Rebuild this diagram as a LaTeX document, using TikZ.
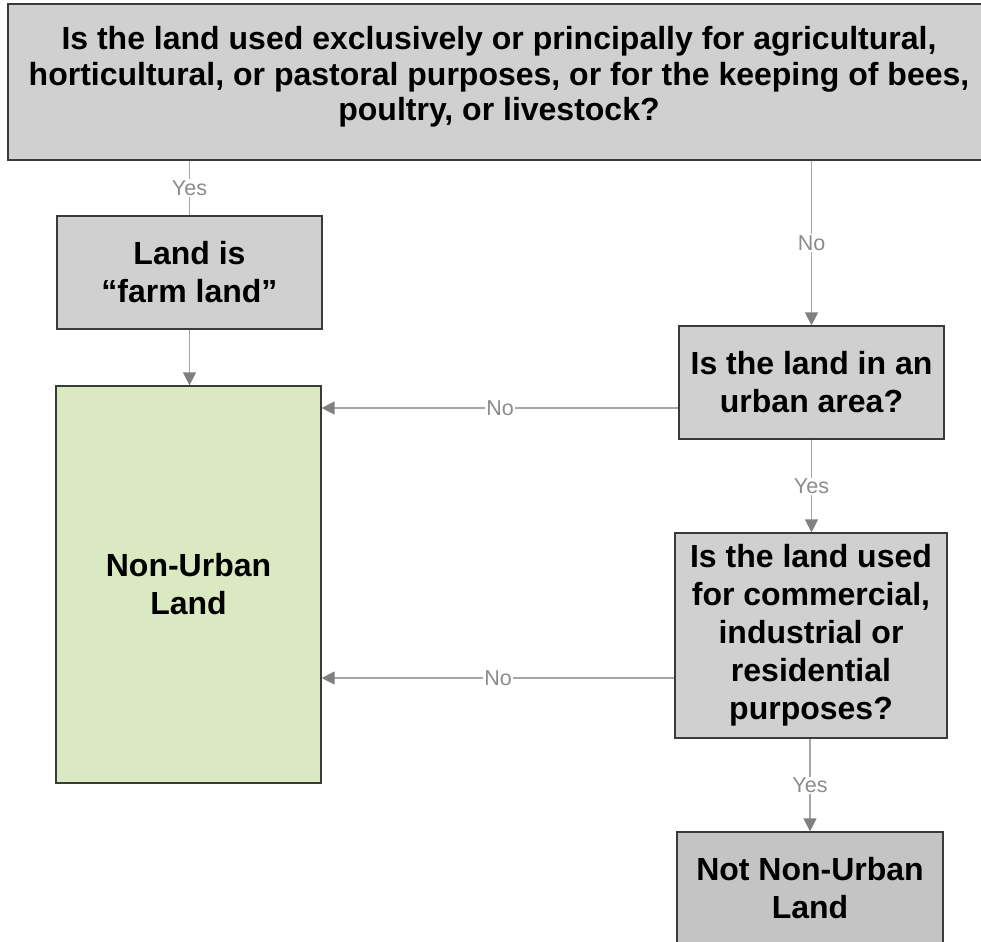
\documentclass[tikz,border=0pt]{standalone}
\usepackage{fontspec}
\setmainfont{Liberation Sans}
\usetikzlibrary{arrows.meta,calc}
\definecolor{boxgray}{HTML}{D0D0D0}
\definecolor{boxdark}{HTML}{C4C4C4}
\definecolor{boxgreen}{HTML}{DAE9C1}
\definecolor{linegray}{HTML}{A6A6A6}
\definecolor{tipgray}{HTML}{808080}
\definecolor{labgray}{HTML}{8C8C8C}
\definecolor{edgecol}{HTML}{3A3A3A}
\begin{document}
\begin{tikzpicture}[x=1pt,y=-1pt,
  box/.style={draw=edgecol,line width=1.2pt,fill=boxgray,align=center,
    font=\fontsize{32}{38}\selectfont\bfseries,inner sep=0pt},
  conn/.style={draw=linegray,line width=1.2pt},
  arr/.style={conn,-{Triangle[length=13pt,width=13pt,color=tipgray]}},
  lab/.style={fill=white,text=labgray,font=\fontsize{21.5}{24}\selectfont,inner sep=1pt}]
\useasboundingbox (0,0) rectangle (981,941);
\clip (0,0) rectangle (981,941);

\node[box,minimum width=982pt,minimum height=156pt,
  label={[align=center,font=\fontsize{32}{35.5}\selectfont\bfseries,yshift=5pt]center:
   Is the land used exclusively or principally for agricultural,\\
   horticultural, or pastoral purposes, or for the keeping of bees,\\
   poultry, or livestock?}] (top) at (499,82) {};
\node[box,minimum width=265pt,minimum height=113pt] (farm) at (189.5,272.5)
  {Land is\\“farm land”};
\node[box,fill=boxgreen,minimum width=265pt,minimum height=397pt] (green) at (188.5,584.5)
  {Non-Urban\\Land};
\node[box,minimum width=265pt,minimum height=113pt] (urban) at (811.5,382.5)
  {Is the land in an\\urban area?};
\node[box,minimum width=272pt,minimum height=205pt] (comm) at (811,635.5)
  {Is the land used\\for commercial,\\industrial or\\residential\\purposes?};
\node[box,fill=boxdark,minimum width=266pt,minimum height=113pt] (notnu) at (810,888.5)
  {Not Non-Urban\\Land};

\draw[conn] (farm.north |- top.south) -- node[lab]{Yes} (farm.north);
\draw[arr] (farm.south) -- (farm.south |- green.north);
\draw[arr] (urban.north |- top.south) -- node[lab]{No} (urban.north);
\draw[arr] ([yshift=-25.5pt]urban.west) -- node[lab]{No} ([yshift=-25.5pt]urban.west -| green.east);
\draw[arr] (urban.south) -- node[lab]{Yes} (urban.south |- comm.north);
\draw[arr] ([yshift=-42.5pt]comm.west) -- node[lab]{No} ([yshift=-42.5pt]comm.west -| green.east);
\draw[arr] (comm.south -| notnu.north) -- node[lab]{Yes} (notnu.north);
\end{tikzpicture}
\end{document}
